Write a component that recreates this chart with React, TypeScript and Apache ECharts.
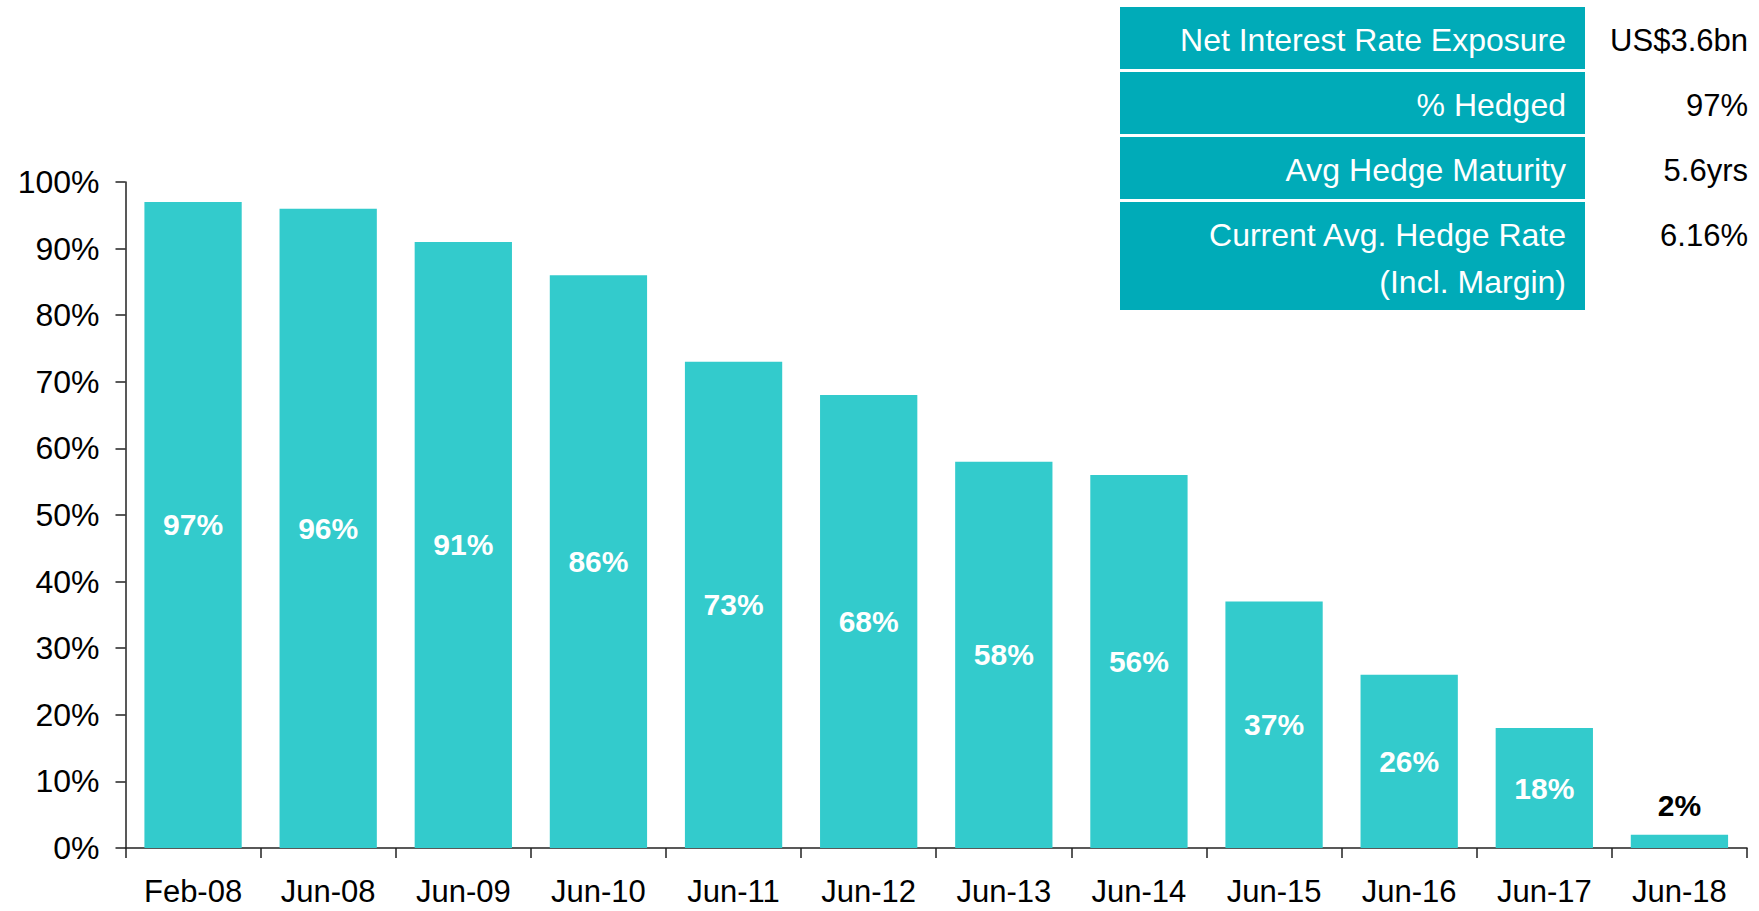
import React, { useEffect, useRef } from "react";
import * as echarts from "echarts";

const categories = ["Feb-08", "Jun-08", "Jun-09", "Jun-10", "Jun-11", "Jun-12", "Jun-13", "Jun-14", "Jun-15", "Jun-16", "Jun-17", "Jun-18"];
const hedgedPct = [97, 96, 91, 86, 73, 68, 58, 56, 37, 26, 18, 2];
const labelsAboveBar = ["Jun-18"];

const tableLabels = [
  ["Net Interest Rate Exposure"],
  ["% Hedged"],
  ["Avg Hedge Maturity"],
  ["Current Avg. Hedge Rate", "(Incl. Margin)"],
];
const tableValues = ["US$3.6bn", "97%", "5.6yrs", "6.16%"];

const FONT = "'Liberation Sans', Arial, sans-serif";
const BAR_COLOR = "#33CBCC";
const TABLE_COLOR = "#00ABB8";

export default function App() {
  const ref = useRef<HTMLDivElement>(null);

  useEffect(() => {
    if (!ref.current) return;
    const chart = echarts.init(ref.current, undefined, { renderer: "svg" });

    // table geometry
    const tableX = 1120;
    const tableW = 465;
    const rowTops = [7, 72, 137, 202];
    const rowHeights = [62, 62, 62, 108];
    const textRight = 1566;
    const valueRight = 1748;
    const lineGap = 47;

    const graphics: any[] = [];
    tableLabels.forEach((lines, i) => {
      graphics.push({
        type: "rect",
        shape: { x: tableX, y: rowTops[i], width: tableW, height: rowHeights[i] },
        style: { fill: TABLE_COLOR },
        silent: true,
      });
      lines.forEach((ln, j) => {
        graphics.push({
          type: "text",
          x: textRight,
          y: rowTops[i] + 33 + j * lineGap,
          style: {
            text: ln,
            fill: "#ffffff",
            fontSize: 32,
            fontFamily: FONT,
            align: "right",
            verticalAlign: "middle",
          },
          silent: true,
        });
      });
      graphics.push({
        type: "text",
        x: valueRight,
        y: rowTops[i] + 33,
        style: {
          text: tableValues[i],
          fill: "#000000",
          fontSize: 31,
          fontFamily: FONT,
          align: "right",
          verticalAlign: "middle",
        },
        silent: true,
      });
    });

    const data = hedgedPct.map((v, i) => {
      const above = labelsAboveBar.includes(categories[i]);
      return above
        ? { value: v, label: { position: "top", color: "#000000", distance: 14 } }
        : { value: v };
    });

    chart.setOption({
      animation: false,
      textStyle: { fontFamily: FONT },
      grid: { left: 125.5, right: 12, top: 182, bottom: 63, containLabel: false },
      xAxis: {
        type: "category",
        data: categories,
        axisLine: { show: true, lineStyle: { color: "#222", width: 1.5 } },
        axisTick: { show: true, length: 10, lineStyle: { color: "#222", width: 1.5 } },
        axisLabel: { color: "#000", fontSize: 31, lineHeight: 26, fontFamily: FONT, margin: 30 },
      },
      yAxis: {
        type: "value",
        min: 0,
        max: 100,
        interval: 10,
        splitLine: { show: false },
        axisLine: { show: true, lineStyle: { color: "#222", width: 1.5 } },
        axisTick: { show: true, length: 10, lineStyle: { color: "#222", width: 1.5 } },
        axisLabel: { color: "#000", fontSize: 32, fontFamily: FONT, margin: 26, formatter: "{value}%" },
      },
      series: [
        {
          type: "bar",
          data,
          barCategoryGap: "28%",
          itemStyle: { color: BAR_COLOR },
          label: {
            show: true,
            position: "inside",
            color: "#ffffff",
            fontWeight: "bold",
            fontSize: 30,
            fontFamily: FONT,
            formatter: "{c}%",
          },
        },
      ],
      graphic: graphics,
    });

    return () => chart.dispose();
  }, []);

  return (
    <div
      ref={ref}
      style={{ position: "fixed", left: 0, top: 0, width: 1759, height: 911, background: "#fff" }}
    />
  );
}
